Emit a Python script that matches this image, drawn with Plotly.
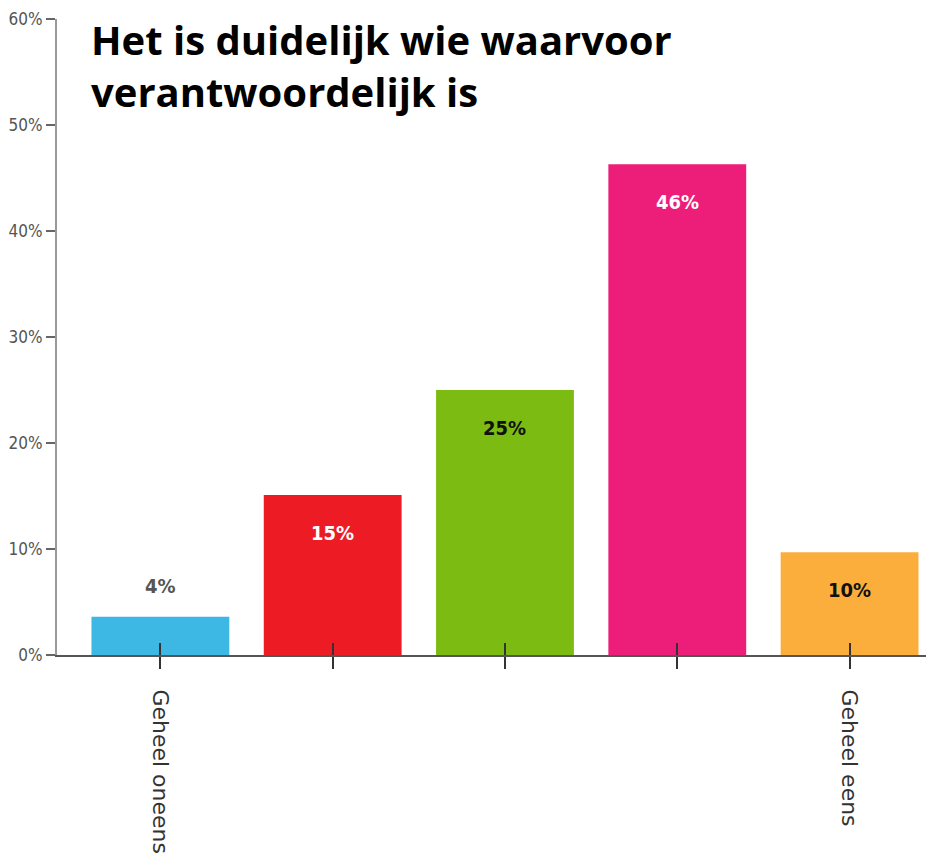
import plotly.graph_objects as go

title_text = "Het is duidelijk wie waarvoor<br>verantwoordelijk is"
categories = ["Geheel oneens", "", "", "", "Geheel eens"]
values = [3.6, 15.1, 25.0, 46.3, 9.7]
value_labels = ["4%", "15%", "25%", "46%", "10%"]
y_ticks = [0, 10, 20, 30, 40, 50, 60]
y_tick_labels = ["0%", "10%", "20%", "30%", "40%", "50%", "60%"]

bar_colors = ["#3DB7E4", "#ED1C24", "#7CBB12", "#EC1E79", "#FBAE3C"]
label_colors = ["#555555", "#FFFFFF", "#111111", "#FFFFFF", "#111111"]

xs = list(range(len(categories)))
narrow = "DejaVu Sans Condensed, Liberation Sans Narrow, Arial Narrow, sans-serif"

fig = go.Figure()
fig.add_trace(go.Bar(
    x=xs, y=values, width=0.8,
    marker=dict(color=bar_colors, line=dict(width=0)),
    hoverinfo="skip", showlegend=False,
))
fig.add_trace(go.Scatter(x=xs, y=[0]*len(xs), xaxis="x2", mode="markers",
                         marker=dict(opacity=0), hoverinfo="skip", showlegend=False))

for x, v, t, c in zip(xs, values, value_labels, label_colors):
    outside = v < 5
    fig.add_annotation(
        x=x, y=v, text=t, showarrow=False, yanchor="middle",
        yshift=31 if outside else -38,
        font=dict(family=narrow, size=20, color=c, weight="bold"),
    )

fig.add_annotation(
    xref="paper", yref="paper", x=0.037, y=1.0, xanchor="left", yanchor="top",
    yshift=9, text="<b>" + title_text + "</b>", showarrow=False, align="left",
    font=dict(family="Open Sans, sans-serif", size=40, color="#000000"),
)

xrange = [-0.6, 4.49]
fig.update_layout(
    width=934, height=867,
    margin=dict(l=49, r=8, t=11, b=220),
    paper_bgcolor="white", plot_bgcolor="white",
    xaxis=dict(
        range=xrange, tickvals=xs, ticktext=categories, tickangle=90,
        ticks="outside", ticklen=12, tickcolor="#333333", tickwidth=1.5,
        showline=True, linecolor="#555555", linewidth=2,
        showgrid=False, zeroline=False, ticklabelstandoff=16, automargin=False,
        tickfont=dict(family="DejaVu Sans, sans-serif", size=22, color="#333333"),
    ),
    xaxis2=dict(
        range=xrange, overlaying="x", anchor="y", side="bottom",
        tickvals=xs, ticks="inside", ticklen=12, tickcolor="#333333", tickwidth=1.5,
        showticklabels=False, showline=False, showgrid=False, zeroline=False,
        automargin=False,
    ),
    yaxis=dict(
        range=[0, 60], tickvals=y_ticks, ticktext=y_tick_labels,
        ticks="outside", ticklen=9, tickcolor="#666666", tickwidth=1.5,
        showline=True, linecolor="#999999", linewidth=2,
        showgrid=False, zeroline=False, automargin=False,
        ticklabeloverflow="allow",
        tickfont=dict(family=narrow, size=17, color="#555555"),
    ),
)

fig.write_html("out.html")
